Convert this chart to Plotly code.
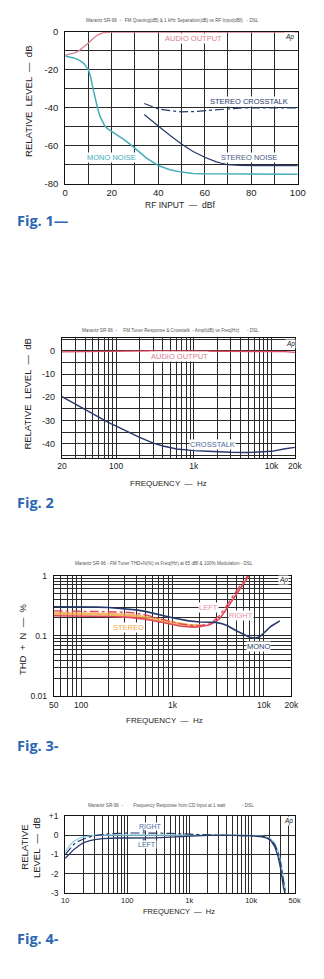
import math
import plotly.graph_objects as go

W, H = 324, 979

# ---------------- Fig. 1 data ----------------
rf_audio = [0, 2, 4, 6, 8, 10, 12, 14, 16, 18, 20, 30, 40, 50, 60, 70, 80, 90, 100]
audio_out1 = [-12.2, -11.8, -11.0, -9.8, -8.0, -5.8, -3.4, -1.5, -0.5, -0.1, 0, 0, 0, 0, 0, 0, 0, 0, 0]
rf_mono = [0, 2, 4, 6, 8, 10, 11, 12, 13, 14, 15, 16, 17, 18, 19, 20, 22, 25, 28, 30, 35, 40, 45, 50, 55, 60, 70, 80, 90, 100]
mono_noise = [-12.7, -13.2, -13.8, -14.8, -16.5, -20.0, -24.0, -30.0, -35.5, -40.5, -44.5, -47.5, -49.5, -50.8,
              -51.6, -52.3, -54.0, -56.5, -59.3, -61.5, -66.5, -70.4, -72.6, -73.9, -74.6, -74.8, -75.0, -74.9, -75.0, -75.0]
rf_stn = [34, 36, 38, 40, 45, 50, 55, 60, 65, 70, 75, 80, 90, 100]
stereo_noise = [-43.5, -45.7, -47.7, -49.6, -54.5, -59.1, -63.0, -66.1, -68.5, -70.0, -70.4, -70.5, -70.5, -70.5]
rf_stx = [34, 37, 40, 45, 50, 55, 60, 65, 70, 75, 80, 90, 100]
stereo_xtalk = [-37.7, -39.3, -40.5, -41.5, -42.1, -42.0, -41.5, -41.0, -40.4, -40.1, -40.0, -40.0, -40.0]

# ---------------- Fig. 2 data ----------------
freq2 = [20, 30, 40, 50, 60, 80, 100, 150, 200, 300, 400, 600, 800, 1000, 1500, 2000, 3000, 5000, 7000, 10000, 15000, 20000]
audio_out2 = [-0.4, -0.3, -0.25, -0.2, -0.15, -0.1, -0.05, 0, 0, 0, 0, 0, 0, 0, 0, 0, 0, 0, 0, -0.1, -0.3, -0.6]
crosstalk2 = [-19.7, -23.0, -25.3, -27.1, -28.6, -30.9, -32.4, -35.4, -37.3, -39.8, -41.0, -42.3, -42.8, -43.0,
              -43.3, -43.5, -43.7, -43.8, -43.7, -43.3, -42.2, -41.6]

# ---------------- Fig. 3 data ----------------
freq3_mono = [50, 70, 100, 150, 200, 300, 400, 500, 700, 1000, 1500, 2000, 2500, 3000, 3500, 4000, 5000, 6000, 7000, 8000, 9000, 10000, 12000, 15000]
thd_mono = [0.305, 0.305, 0.303, 0.300, 0.296, 0.283, 0.270, 0.255, 0.225, 0.200, 0.178, 0.170, 0.169, 0.168, 0.160,
            0.148, 0.122, 0.105, 0.095, 0.092, 0.097, 0.112, 0.145, 0.178]
freq3_left = [50, 100, 200, 340, 500, 760, 1000, 1240, 1700, 2000, 2560, 3000, 3250, 3700, 4100, 4700, 5300, 6000, 6700]
thd_left = [0.26, 0.258, 0.252, 0.245, 0.225, 0.19, 0.17, 0.158, 0.148, 0.149, 0.158, 0.19, 0.216, 0.28, 0.358, 0.48, 0.63, 0.8, 1.0]
freq3_right = [50, 100, 200, 340, 500, 760, 1000, 1240, 1700, 2000, 2560, 3000, 3250, 3700, 4100, 4700, 5300, 6000, 6900]
thd_right = [0.216, 0.215, 0.21, 0.203, 0.19, 0.169, 0.155, 0.145, 0.14, 0.142, 0.153, 0.175, 0.19, 0.25, 0.315, 0.42, 0.554, 0.74, 1.0]
freq3_stereo = [50, 100, 200, 340, 500, 760, 1000, 1500, 2000]
thd_stereo = [0.235, 0.233, 0.228, 0.22, 0.205, 0.18, 0.165, 0.15, 0.148]

# ---------------- Fig. 4 data ----------------
freq4 = [10, 12, 14, 17, 20, 25, 30, 40, 50, 70, 100, 200, 300, 500, 700, 1000, 2000, 5000, 10000, 15000,
         18000, 21000, 24000, 27000, 30000, 33000, 36000]
resp_right = [-1.0, -0.7, -0.45, -0.28, -0.18, -0.08, -0.02, 0.05, 0.08, 0.1, 0.12, 0.12, 0.12, 0.1, 0.08, 0.05,
              0.02, 0, -0.02, -0.06, -0.12, -0.25, -0.5, -0.9, -1.5, -2.3, -3.1]
resp_left = [-1.2, -0.95, -0.72, -0.52, -0.38, -0.28, -0.22, -0.17, -0.15, -0.14, -0.14, -0.14, -0.13, -0.1, -0.07,
             -0.03, 0, 0, -0.02, -0.08, -0.15, -0.3, -0.6, -1.1, -1.8, -2.7, -3.2]
resp_mid = [-0.85, -0.5, -0.3, -0.15, -0.08, -0.03, 0, 0.02, 0.02, 0.02, 0.02, 0.02, 0.02, 0.02, 0.02, 0.02,
            0.02, 0.02, 0.0, -0.04, -0.1, -0.2, -0.42, -0.8, -1.4, -2.2, -3.0]

# ---------------- styling ----------------
NAVY = "#26396a"
TEAL = "#45adbb"
PINK = "#d98090"
RED = "#e0485c"
ORANGE = "#f2a540"
LBLUE = "#8ccde2"
FIGBLUE = "#2b66b3"
FONT = "Liberation Sans"


def px_x(p):
    return p / W


def px_y(p):
    return 1 - p / H


def log_grid(lo_exp, hi_exp, top):
    vals = []
    for e in range(lo_exp, hi_exp + 1):
        for m in range(1, 10):
            v = m * 10 ** e
            if v <= top * 1.0001:
                vals.append(v)
    return vals


fig = go.Figure()

# Fig 1
fig.add_trace(go.Scatter(x=rf_audio, y=audio_out1, mode="lines", line=dict(color=PINK, width=1.3), xaxis="x", yaxis="y"))
fig.add_trace(go.Scatter(x=rf_mono, y=mono_noise, mode="lines", line=dict(color=TEAL, width=1.5), xaxis="x", yaxis="y"))
fig.add_trace(go.Scatter(x=rf_stn, y=stereo_noise, mode="lines", line=dict(color=NAVY, width=1.2), xaxis="x", yaxis="y"))
fig.add_trace(go.Scatter(x=rf_stx, y=stereo_xtalk, mode="lines", line=dict(color=NAVY, width=1.2, dash="dashdot"), xaxis="x", yaxis="y"))

# Fig 2
fig.add_trace(go.Scatter(x=freq2, y=audio_out2, mode="lines", line=dict(color=RED, width=1.3), xaxis="x2", yaxis="y2"))
fig.add_trace(go.Scatter(x=freq2, y=crosstalk2, mode="lines", line=dict(color=NAVY, width=1.4), xaxis="x2", yaxis="y2"))

# Fig 3
fig.add_trace(go.Scatter(x=freq3_stereo, y=thd_stereo, mode="lines", line=dict(color=ORANGE, width=3), opacity=0.8, xaxis="x3", yaxis="y3"))
fig.add_trace(go.Scatter(x=freq3_left, y=thd_left, mode="lines", line=dict(color=RED, width=1.4, dash="dashdot"), xaxis="x3", yaxis="y3"))
fig.add_trace(go.Scatter(x=freq3_right, y=thd_right, mode="lines", line=dict(color=RED, width=1.6), xaxis="x3", yaxis="y3"))
fig.add_trace(go.Scatter(x=freq3_mono, y=thd_mono, mode="lines", line=dict(color=NAVY, width=1.6), xaxis="x3", yaxis="y3"))

# Fig 4
fig.add_trace(go.Scatter(x=freq4, y=resp_mid, mode="lines", line=dict(color=LBLUE, width=1.2), xaxis="x4", yaxis="y4"))
fig.add_trace(go.Scatter(x=freq4, y=resp_right, mode="lines", line=dict(color=NAVY, width=1.2, dash="dashdot"), xaxis="x4", yaxis="y4"))
fig.add_trace(go.Scatter(x=freq4, y=resp_left, mode="lines", line=dict(color=NAVY, width=1.3), xaxis="x4", yaxis="y4"))


def base(size):
    return dict(showline=True, linecolor="#111", linewidth=1, mirror=True, showgrid=True, gridcolor="#2a2a2a",
                gridwidth=0.8, zeroline=False, ticks="", fixedrange=True,
                tickfont=dict(family=FONT, size=size, color="#222"))


# Fig 1 axes
x1_vals = list(range(0, 101, 10))
y1_vals = list(range(-80, 1, 10))
fig.update_layout(
    xaxis=dict(base(9.5), domain=[px_x(62.7), px_x(305)], range=[0, 100], anchor="y",
               tickvals=x1_vals, ticktext=[str(v) if v % 20 == 0 else "" for v in x1_vals], ticklabelstandoff=0),
    yaxis=dict(base(9.5), domain=[px_y(179.7), px_y(26.3)], range=[-80, 0], anchor="x",
               tickvals=y1_vals, ticktext=[("-" + str(-v) if v < 0 else "0") if v % 20 == 0 else "" for v in y1_vals],
               ticklabelstandoff=4),
)

# Fig 2 axes
x2_vals = [v for v in log_grid(1, 4, 20000) if v >= 20]
lab2 = {20: "20", 100: "100", 1000: "1k", 10000: "10k", 20000: "20k"}
y2_vals = list(range(-45, 6, 5))
fig.update_layout(
    xaxis2=dict(base(8.5), type="log", domain=[px_x(59.3), px_x(302)], range=[math.log10(20), math.log10(20000)], anchor="y2",
                tickvals=x2_vals, ticktext=[lab2.get(v, "") for v in x2_vals], ticklabelstandoff=0),
    yaxis2=dict(base(9), domain=[px_y(456.7), px_y(336)], range=[-46, 5.5], anchor="x2",
                tickvals=y2_vals, ticktext=[("-" + str(-v) if v < 0 else "0") if v % 10 == 0 else "" for v in y2_vals],
                ticklabelstandoff=4),
)

# Fig 3 axes
x3_vals = [v for v in log_grid(1, 4, 20000) if v >= 50]
lab3 = {50: "50", 100: "100", 1000: "1k", 10000: "10k", 20000: "20k"}
y3_vals = log_grid(-2, -1, 0.9) + [1]
lab3y = {0.01: "0.01", 0.1: "0.1", 1: "1"}
fig.update_layout(
    xaxis3=dict(base(8.5), type="log", domain=[px_x(50.7), px_x(298.3)], range=[math.log10(50), math.log10(20000)], anchor="y3",
                tickvals=x3_vals, ticktext=[lab3.get(v, "") for v in x3_vals], ticklabelstandoff=0),
    yaxis3=dict(base(8.5), type="log", domain=[px_y(698.3), px_y(576)], range=[-2, 0], anchor="x3",
                tickvals=y3_vals, ticktext=[lab3y.get(round(v, 4), "") for v in y3_vals], ticklabelstandoff=4),
)

# Fig 4 axes
x4_vals = log_grid(1, 4, 50000)
lab4 = {10: "10", 100: "100", 1000: "1k", 10000: "10k", 50000: "50k"}
y4_vals = [-3, -2, -1, 0, 1]
fig.update_layout(
    xaxis4=dict(base(7.5), type="log", domain=[px_x(62.7), px_x(301.7)], range=[1, math.log10(50000)], anchor="y4",
                tickvals=x4_vals, ticktext=[lab4.get(v, "") for v in x4_vals], ticklabelstandoff=0),
    yaxis4=dict(base(8.5), domain=[px_y(897), px_y(819.3)], range=[-3, 1], anchor="x4",
                tickvals=y4_vals, ticktext=["-3", "-2", "-1", "0", "+1"], ticklabelstandoff=4),
)

ann = []


def paper_text(text, x, y, size=10, color="#222", angle=0, xanchor="center", bold=False, family=FONT):
    if bold:
        text = "<b>" + text + "</b>"
    ann.append(dict(text=text, x=px_x(x), y=px_y(y), xref="paper", yref="paper", showarrow=False,
                    font=dict(family=family, size=size, color=color), textangle=angle,
                    xanchor=xanchor, yanchor="middle"))


def data_text(text, x, y, xr, yr, size=8, color=NAVY, bg="white"):
    ann.append(dict(text=text, x=x, y=y, xref=xr, yref=yr, showarrow=False, bgcolor=bg, borderpad=0,
                    font=dict(family=FONT, size=size, color=color), xanchor="center", yanchor="middle"))


def arrow(x, y, xr, yr, ax, ay, color):
    ann.append(dict(text="", x=x, y=y, xref=xr, yref=yr, showarrow=True, ax=ax, ay=ay,
                    arrowhead=2, arrowsize=0.6, arrowwidth=0.8, arrowcolor=color))


# small titles
TS = 4.6
TC = "#555"
paper_text("Marantz SR-96  -   FM Quieting(dB) & 1 kHz Separation(dB) vs RF Input(dBf)   - DSL", 174, 15, TS, TC)
paper_text("Marantz SR-96  -     FM Tuner Response & Crosstalk  - Ampl(dB) vs Freq(Hz)      - DSL", 172, 328, TS, TC)
paper_text("Marantz SR-96 - FM Tuner THD+N(%) vs Freq(Hz) at 65 dBf & 100% Modulation - DSL", 166, 564, TS, TC)
paper_text("Marantz SR-96  -        Frequency Response from CD Input at 1 watt             - DSL", 173, 809, TS, TC)

# axis titles
paper_text("RF INPUT  —  dBf", 182, 201, 8.5)
paper_text("RELATIVE  LEVEL  —  dB", 25, 96, 9.5, angle=-90)
paper_text("FREQUENCY  —  Hz", 170, 483, 8)
paper_text("RELATIVE  LEVEL  —  dB", 24, 393, 9.5, angle=-90)
paper_text("FREQUENCY  —  Hz", 166, 723, 8)
paper_text("THD  +  N  —  %", 19, 640, 9.5, angle=-90)
paper_text("FREQUENCY  —  Hz", 181, 916, 7.5)
paper_text("RELATIVE", 20, 851, 9.5, angle=-90)
paper_text("LEVEL  —  dB", 33, 851, 9.5, angle=-90)

# figure labels
paper_text("Fig. 1—", 10, 217, 14.5, FIGBLUE, xanchor="left", bold=True, family="Open Sans")
paper_text("Fig. 2", 10, 502, 14.5, FIGBLUE, xanchor="left", bold=True, family="Open Sans")
paper_text("Fig. 3-", 10, 748, 14.5, FIGBLUE, xanchor="left", bold=True, family="Open Sans")
paper_text("Fig. 4-", 10, 943, 14.5, FIGBLUE, xanchor="left", bold=True, family="Open Sans")

# in-plot labels
data_text("AUDIO OUTPUT", 55, -3.5, "x", "y", 7.5, PINK)
data_text("STEREO CROSSTALK", 79, -36.5, "x", "y", 7.5, NAVY)
data_text("MONO NOISE", 20, -66, "x", "y", 7.5, TEAL)
data_text("STEREO NOISE", 79, -66, "x", "y", 7.5, "#4a5a80")
data_text("<i>Ap</i>", 96.5, -2.5, "x", "y", 6.5, "#222")

data_text("AUDIO OUTPUT", math.log10(650), -2.6, "x2", "y2", 7.5, PINK)
data_text("CROSSTALK", math.log10(1750), -40.5, "x2", "y2", 7.5, "#4a6aa0")
data_text("<i>Ap</i>", math.log10(17500), 3.2, "x2", "y2", 6.5, "#222")

data_text("LEFT", math.log10(2500), math.log10(0.3), "x3", "y3", 7.5, "#e9909a")
data_text("RIGHT", math.log10(5600), math.log10(0.215), "x3", "y3", 7.5, "#e9909a")
data_text("STEREO", math.log10(330), math.log10(0.14), "x3", "y3", 7.5, ORANGE)
data_text("MONO", math.log10(8800), math.log10(0.068), "x3", "y3", 7.5, NAVY)
data_text("<i>Ap</i>", math.log10(16500), math.log10(0.85), "x3", "y3", 6.5, "#222")

data_text("RIGHT", math.log10(240), 0.45, "x4", "y4", 7, "#4a6aa0")
data_text("LEFT", math.log10(210), -0.47, "x4", "y4", 7, "#4a6aa0")
arrow(math.log10(185), 0.14, "x4", "y4", 0, -5, "#4a6aa0")
arrow(math.log10(185), -0.12, "x4", "y4", 0, 5, "#4a6aa0")
data_text("<i>Ap</i>", math.log10(40000), 0.75, "x4", "y4", 6.5, "#222")

fig.update_layout(
    annotations=ann,
    width=W, height=H,
    margin=dict(l=0, r=0, t=0, b=0),
    paper_bgcolor="white", plot_bgcolor="white",
    showlegend=False,
    font=dict(family=FONT),
)

fig.write_html("out.html", config={"displayModeBar": False})
